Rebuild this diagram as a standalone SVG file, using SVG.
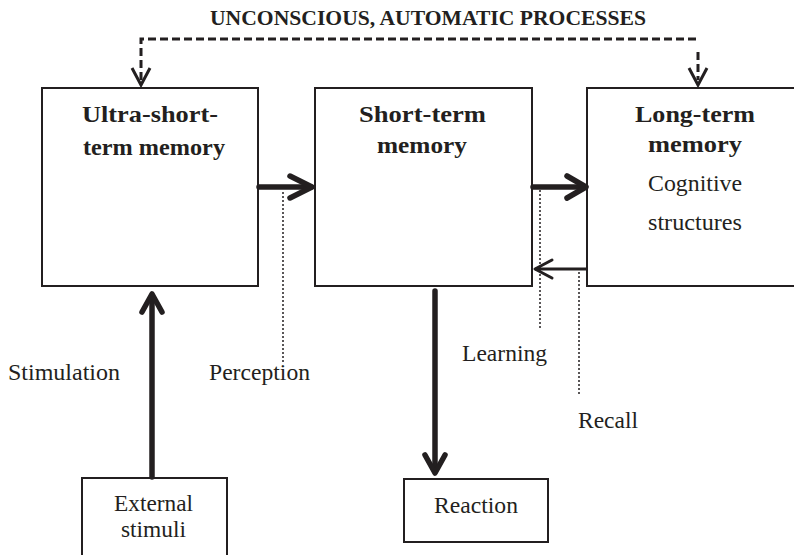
<svg xmlns="http://www.w3.org/2000/svg" width="794" height="555" viewBox="0 0 794 555">
<style>
.box{fill:#fff;stroke:#231f20;stroke-width:2}
.t{font-family:'Liberation Serif',serif;fill:#231f20;font-size:23.5px;text-anchor:middle}
.b{font-weight:bold;font-size:24px}
.ttl{font-size:20.5px}
.thick{fill:none;stroke:#231f20;stroke-width:5.5;stroke-linecap:round;stroke-linejoin:round}
.thin{fill:none;stroke:#231f20;stroke-width:3;stroke-linecap:round;stroke-linejoin:round}
.dash{fill:none;stroke:#231f20;stroke-width:3;stroke-dasharray:8 4}
.dot{fill:none;stroke:#231f20;stroke-width:1.5;stroke-dasharray:2 2}
.head{fill:none;stroke:#231f20;stroke-width:3;stroke-linejoin:miter}
</style>
<rect width="794" height="555" fill="#fff"/>
<text class="t b ttl" x="428" y="25" textLength="436" lengthAdjust="spacingAndGlyphs">UNCONSCIOUS, AUTOMATIC PROCESSES</text>
<g id="ultra-short-term-memory">
<rect class="box" x="42" y="88" width="216" height="198"/>
<text class="t b" x="150" y="122" textLength="136" lengthAdjust="spacingAndGlyphs">Ultra-short-</text>
<text class="t b" x="154" y="155" textLength="142" lengthAdjust="spacingAndGlyphs">term memory</text>
</g>
<g id="short-term-memory">
<rect class="box" x="315" y="88" width="217" height="198"/>
<text class="t b" x="422.5" y="122" textLength="127" lengthAdjust="spacingAndGlyphs">Short-term</text>
<text class="t b" x="422" y="153" textLength="90" lengthAdjust="spacingAndGlyphs">memory</text>
</g>
<g id="long-term-memory">
<rect class="box" x="587" y="88" width="220" height="198"/>
<text class="t b" x="695" y="122" textLength="120" lengthAdjust="spacingAndGlyphs">Long-term</text>
<text class="t b" x="695" y="152" textLength="94" lengthAdjust="spacingAndGlyphs">memory</text>
<text class="t" x="695" y="191" textLength="94" lengthAdjust="spacingAndGlyphs">Cognitive</text>
<text class="t" x="695" y="230" textLength="94" lengthAdjust="spacingAndGlyphs">structures</text>
</g>
<g id="external-stimuli">
<rect class="box" x="82" y="478" width="145" height="90"/>
<text class="t" x="153.5" y="511" textLength="79" lengthAdjust="spacingAndGlyphs">External</text>
<text class="t" x="153.5" y="537" textLength="65" lengthAdjust="spacingAndGlyphs">stimuli</text>
</g>
<g id="reaction">
<rect class="box" x="404" y="479" width="144" height="63"/>
<text class="t" x="476" y="513" textLength="84" lengthAdjust="spacingAndGlyphs">Reaction</text>
</g>
<g id="connectors">
<path class="dash" d="M141,80 V39 H697"/>
<path class="dash" d="M698,52 V80"/>
<polyline class="head" points="132,68 141,85 150,68"/>
<polyline class="head" points="689,68 698,85 707,68"/>
<line class="thick" x1="259" y1="187" x2="311" y2="187"/>
<polyline class="thick" points="290,176 312,187 290,198"/>
<line class="thick" x1="533" y1="187" x2="584" y2="187"/>
<polyline class="thick" points="567,176 586,187 567,198"/>
<line class="thin" x1="586" y1="269" x2="536" y2="269"/>
<polyline class="thin" points="552,260 535,269 552,278"/>
<line class="thick" x1="152" y1="477" x2="152" y2="296"/>
<polyline class="thick" points="142,312 152,294 162,312"/>
<line class="thick" x1="435" y1="291" x2="435" y2="471"/>
<polyline class="thick" points="425,455 435,473 445,455"/>
<line class="dot" x1="283" y1="192" x2="283" y2="362"/>
<line class="dot" x1="540" y1="190" x2="540" y2="328"/>
<line class="dot" x1="579" y1="272" x2="579" y2="395"/>
</g>
<text class="t" x="64" y="380" textLength="112" lengthAdjust="spacingAndGlyphs">Stimulation</text>
<text class="t" x="259.5" y="380" textLength="101" lengthAdjust="spacingAndGlyphs">Perception</text>
<text class="t" x="504.5" y="361" textLength="85" lengthAdjust="spacingAndGlyphs">Learning</text>
<text class="t" x="608" y="428" textLength="60" lengthAdjust="spacingAndGlyphs">Recall</text>
</svg>
